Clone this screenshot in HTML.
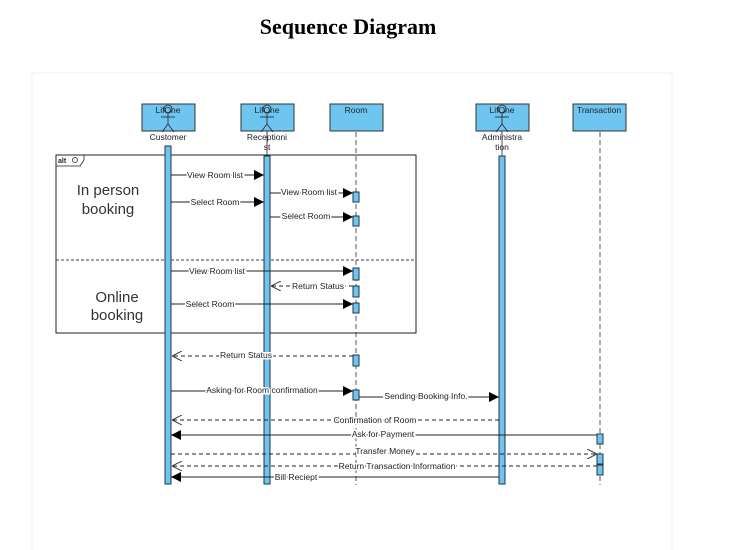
<!DOCTYPE html>
<html><head><meta charset="utf-8"><style>
html,body{margin:0;padding:0;background:#fff;width:731px;height:550px;overflow:hidden}
svg{position:absolute;left:0;top:0}
text{font-family:"Liberation Sans",Arial,sans-serif;font-size:8.5px;fill:#222}
</style></head><body>
<svg width="731" height="550" viewBox="0 0 731 550">
<defs>
<marker id="f" viewBox="0 0 10 10" refX="10" refY="5" markerWidth="10" markerHeight="10" markerUnits="userSpaceOnUse" orient="auto"><path d="M0,0L10,5L0,10z" fill="#000"/></marker>
<marker id="o" viewBox="0 0 10 10" refX="10" refY="5" markerWidth="10" markerHeight="10" markerUnits="userSpaceOnUse" orient="auto"><path d="M0,0L10,5L0,10" fill="none" stroke="#333" stroke-width="1"/></marker>
</defs>
<text x="348" y="34" text-anchor="middle" style="font-family:'Liberation Serif',serif;font-size:22px;font-weight:bold;fill:#000">Sequence Diagram</text>
<rect x="32" y="73" width="640" height="480" fill="#fff" stroke="#f2f2f2"/>

<g stroke="#555" stroke-dasharray="5,3" stroke-width="1">
<line x1="356" y1="132" x2="356" y2="485"/>
<line x1="600" y1="132" x2="600" y2="485"/>
</g>
<g fill="#6ec6f0" stroke="#333" stroke-width="1">
<rect x="142" y="104" width="53" height="27"/>
<rect x="241" y="104" width="53" height="27"/>
<rect x="330" y="104" width="53" height="27"/>
<rect x="476" y="104" width="53" height="27"/>
<rect x="573" y="104" width="53" height="27"/>
</g>
<text x="168" y="113" text-anchor="middle">LifOne</text>
<text x="267" y="113" text-anchor="middle">LifOne</text>
<text x="356" y="113" text-anchor="middle">Room</text>
<text x="502" y="113" text-anchor="middle">LifOne</text>
<text x="599" y="113" text-anchor="middle">Transaction</text>
<g fill="none" stroke="#222" stroke-width="0.8">
<circle cx="168" cy="109" r="4"/><line x1="168" y1="113" x2="168" y2="124"/><line x1="161" y1="117" x2="175" y2="117"/><path d="M162,132L168,124L174,132"/>
<circle cx="267" cy="109" r="4"/><line x1="267" y1="113" x2="267" y2="124"/><line x1="260" y1="117" x2="274" y2="117"/><path d="M261,132L267,124L273,132"/>
<circle cx="502" cy="109" r="4"/><line x1="502" y1="113" x2="502" y2="124"/><line x1="495" y1="117" x2="509" y2="117"/><path d="M496,132L502,124L508,132"/>
<line x1="267" y1="131" x2="267" y2="156"/><line x1="502" y1="131" x2="502" y2="156"/>
</g>
<text x="168" y="140" text-anchor="middle">Customer</text>
<text x="267" y="140" text-anchor="middle">Receptioni</text>
<text x="267" y="150" text-anchor="middle">st</text>
<text x="502" y="140" text-anchor="middle">Administra</text>
<text x="502" y="150" text-anchor="middle">tion</text>

<rect x="56" y="155" width="360" height="178" fill="none" stroke="#222" stroke-width="1"/>
<path d="M56,166H80L84,160V155" fill="none" stroke="#222" stroke-width="0.8"/>
<text x="58" y="163" style="font-size:7px;font-weight:bold">alt</text>
<circle cx="75" cy="160" r="2.5" fill="none" stroke="#222" stroke-width="0.7"/>
<line x1="56" y1="260" x2="416" y2="260" stroke="#444" stroke-dasharray="3,2"/>
<text x="108" y="195" text-anchor="middle" style="font-size:15px;fill:#333">In person</text>
<text x="108" y="214" text-anchor="middle" style="font-size:15px;fill:#333">booking</text>
<text x="117" y="302" text-anchor="middle" style="font-size:15px;fill:#333">Online</text>
<text x="117" y="320" text-anchor="middle" style="font-size:15px;fill:#333">booking</text>

<g fill="#6ec6f0" stroke="#234" stroke-width="1">
<rect x="165" y="146" width="6" height="338"/>
<rect x="264" y="156" width="6" height="328"/>
<rect x="499" y="156" width="6" height="328"/>
<rect x="353" y="192" width="6" height="10"/>
<rect x="353" y="216" width="6" height="10"/>
<rect x="353" y="268" width="6" height="12"/>
<rect x="353" y="286" width="6" height="11"/>
<rect x="353" y="303" width="6" height="10"/>
<rect x="353" y="355" width="6" height="11"/>
<rect x="353" y="390" width="6" height="10"/>
<rect x="597" y="434" width="6" height="10"/>
<rect x="597" y="454" width="6" height="10"/>
<rect x="597" y="465" width="6" height="10"/>
</g>

<g stroke="#222" stroke-width="1" fill="none">
<line x1="171" y1="175" x2="264" y2="175" marker-end="url(#f)"/>
<line x1="270" y1="193" x2="353" y2="193" marker-end="url(#f)"/>
<line x1="171" y1="202" x2="264" y2="202" marker-end="url(#f)"/>
<line x1="270" y1="217" x2="353" y2="217" marker-end="url(#f)"/>
<line x1="171" y1="271" x2="353" y2="271" marker-end="url(#f)"/>
<line x1="353" y1="286" x2="271" y2="286" stroke-dasharray="4,3" marker-end="url(#o)"/>
<line x1="171" y1="304" x2="353" y2="304" marker-end="url(#f)"/>
<line x1="353" y1="356" x2="172" y2="356" stroke-dasharray="4,3" marker-end="url(#o)"/>
<line x1="171" y1="391" x2="353" y2="391" marker-end="url(#f)"/>
<line x1="359" y1="397" x2="499" y2="397" marker-end="url(#f)"/>
<line x1="499" y1="420" x2="172" y2="420" stroke-dasharray="4,3" marker-end="url(#o)"/>
<line x1="597" y1="435" x2="171" y2="435" marker-end="url(#f)"/>
<line x1="171" y1="454" x2="597" y2="454" stroke-dasharray="4,3" marker-end="url(#o)"/>
<line x1="597" y1="466" x2="172" y2="466" stroke-dasharray="4,3" marker-end="url(#o)"/>
<line x1="499" y1="477" x2="171" y2="477" marker-end="url(#f)"/>
</g>
<g text-anchor="middle" style="paint-order:stroke" stroke="#fff" stroke-width="3">
<text x="215" y="178">View Room list</text>
<text x="309" y="195">View Room list</text>
<text x="215" y="205">Select Room</text>
<text x="306" y="219">Select Room</text>
<text x="217" y="274">View Room list</text>
<text x="318" y="289">Return Status</text>
<text x="210" y="307">Select Room</text>
<text x="246" y="358">Return Status</text>
<text x="262" y="393">Asking for Room confirmation</text>
<text x="426" y="399">Sending Booking Info.</text>
<text x="375" y="423">Confirmation  of Room</text>
<text x="383" y="437">Ask for Payment</text>
<text x="385" y="454">Transfer Money</text>
<text x="397" y="469">Return Transaction Information</text>
<text x="296" y="480">Bill Reciept</text>
</g>
</svg>
</body></html>
